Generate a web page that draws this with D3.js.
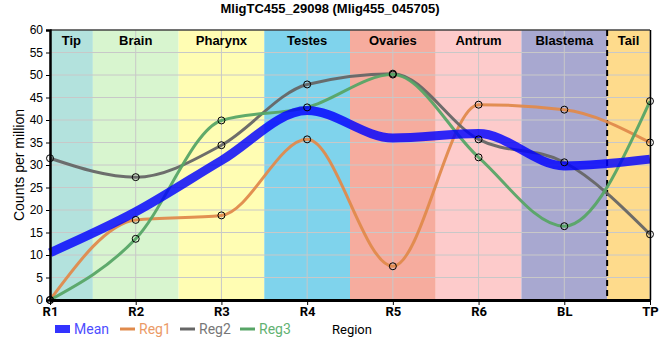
<!DOCTYPE html>
<html>
<head>
<meta charset="utf-8">
<script src="https://cdn.jsdelivr.net/npm/d3@7"></script>
<style>
  body { margin: 0; background: #fff; }
  text { font-family: "Liberation Sans", Arial, sans-serif; }
  .rob { font-family: Roboto, "DejaVu Sans", sans-serif; }
</style>
</head>
<body>
<div id="chart"></div>
<script>
// categories along x
const regions = ["R1", "R2", "R3", "R4", "R5", "R6", "BL", "TP"];

// tissue bands (start / end in category index units)
const bandNames = ["Tip", "Brain", "Pharynx", "Testes", "Ovaries", "Antrum", "Blastema", "Tail"];
const bandStart = [0, 0.5, 1.5, 2.5, 3.5, 4.5, 5.5, 6.5];
const bandEnd = [0.5, 1.5, 2.5, 3.5, 4.5, 5.5, 6.5, 7];
const bandColors = ["#b3e2dd", "#d8f5cf", "#fffdb3", "#7fd3ec", "#f6ac9e", "#fdcbcb", "#a8a8d0", "#fedb8c"];

// series values (counts per million)
const reg1 = [0, 17.8, 18.8, 35.7, 7.5, 43.4, 42.3, 35.0];
const reg2 = [31.5, 27.3, 34.4, 47.9, 50.3, 35.7, 30.6, 14.6];
const reg3 = [0, 13.6, 39.9, 42.8, 50.1, 31.7, 16.4, 44.2];
const meanVals = [10.5, 19.6, 31.0, 42.1, 36.0, 37.0, 29.8, 31.3];

const yTicks = [0, 5, 10, 15, 20, 25, 30, 35, 40, 45, 50, 55, 60];

const width = 660, height = 360;
const margin = {top: 30, right: 9, bottom: 60, left: 50};

const svg = d3.select("#chart").append("svg")
    .attr("width", width)
    .attr("height", height);

const x = d3.scaleLinear()
    .domain([0, regions.length - 1])
    .range([margin.left, width - margin.right - 1]);

const y = d3.scaleLinear()
    .domain([0, 60])
    .range([height - margin.bottom, margin.top]);

// background bands
svg.append("g")
    .selectAll("rect")
    .data(bandNames)
    .join("rect")
    .attr("x", (d, i) => x(bandStart[i]))
    .attr("width", (d, i) => x(bandEnd[i]) - x(bandStart[i]))
    .attr("y", y(60))
    .attr("height", y(0) - y(60))
    .attr("fill", (d, i) => bandColors[i]);

// grid
svg.append("g")
    .selectAll("line")
    .data(yTicks)
    .join("line")
    .attr("x1", x(0)).attr("x2", x(7))
    .attr("y1", d => y(d)).attr("y2", d => y(d))
    .attr("stroke", "#c8c8c8").attr("stroke-width", 1);

svg.append("g")
    .selectAll("line")
    .data(regions)
    .join("line")
    .attr("x1", (d, i) => x(i)).attr("x2", (d, i) => x(i))
    .attr("y1", y(0)).attr("y2", y(60))
    .attr("stroke", "#c8c8c8").attr("stroke-width", 1);

// band labels
svg.append("g")
    .selectAll("text")
    .data(bandNames)
    .join("text")
    .attr("x", (d, i) => (x(bandStart[i]) + x(bandEnd[i])) / 2)
    .attr("y", 45)
    .attr("text-anchor", "middle")
    .style("font-size", "13px")
    .style("font-weight", "bold")
    .text(d => d);

// dashed separator before tail
svg.append("line")
    .attr("x1", x(6.5)).attr("x2", x(6.5))
    .attr("y1", y(60)).attr("y2", y(0))
    .attr("stroke", "#000")
    .attr("stroke-width", 2)
    .attr("stroke-dasharray", "6,4");

// series lines
const line = d3.line()
    .x((d, i) => x(i))
    .y(d => y(d))
    .curve(d3.curveMonotoneX);

const series = [
    {name: "Reg1", values: reg1, color: "#e08a4c"},
    {name: "Reg2", values: reg2, color: "#666666"},
    {name: "Reg3", values: reg3, color: "#57a566"}
];

svg.append("g")
    .selectAll("path")
    .data(series)
    .join("path")
    .attr("d", d => line(d.values))
    .attr("fill", "none")
    .attr("stroke", d => d.color)
    .attr("stroke-width", 3)
    .attr("stroke-opacity", 0.95);

// mean line, on top and see-through
svg.append("path")
    .attr("d", line(meanVals))
    .attr("fill", "none")
    .attr("stroke", "#0000ff")
    .attr("stroke-width", 9)
    .attr("stroke-opacity", 0.82);

// data points
series.forEach(s => {
    svg.append("g")
        .selectAll("circle")
        .data(s.values)
        .join("circle")
        .attr("cx", (d, i) => x(i))
        .attr("cy", d => y(d))
        .attr("r", 3.5)
        .attr("fill", "none")
        .attr("stroke", "#000")
        .attr("stroke-width", 1);
});

// frame top / right
svg.append("line")
    .attr("x1", x(0)).attr("x2", x(7))
    .attr("y1", y(60)).attr("y2", y(60))
    .attr("stroke", "#000").attr("stroke-width", 1);
svg.append("line")
    .attr("x1", x(7) + 0.5).attr("x2", x(7) + 0.5)
    .attr("y1", y(60)).attr("y2", y(0))
    .attr("stroke", "#000").attr("stroke-width", 1.5);

// axes
const yAxis = svg.append("g")
    .attr("transform", `translate(${x(0)},0)`)
    .call(d3.axisLeft(y).tickValues(yTicks).tickSize(4).tickPadding(3));
yAxis.select(".domain").attr("stroke-width", 2.5);
yAxis.selectAll("text")
    .style("font-family", "'Liberation Sans', Arial, sans-serif")
    .style("font-size", "12px").attr("fill", "#000");

const xAxis = svg.append("g")
    .attr("transform", `translate(0,${y(0)})`)
    .call(d3.axisBottom(x)
        .tickValues(d3.range(regions.length))
        .tickFormat(i => regions[i])
        .tickSize(5).tickPadding(2).tickSizeOuter(0));
xAxis.select(".domain").attr("stroke-width", 3);
xAxis.selectAll("text")
    .style("font-family", "Roboto, sans-serif")
    .style("font-size", "13px")
    .style("font-weight", "bold")
    .attr("fill", "#000");

// title
svg.append("text")
    .attr("x", width / 2)
    .attr("y", 13)
    .attr("text-anchor", "middle")
    .style("font-size", "13px")
    .style("font-weight", "bold")
    .text("MligTC455_29098 (Mlig455_045705)");

// y label
svg.append("text")
    .attr("transform", `translate(24,${(y(0) + y(60)) / 2}) rotate(-90)`)
    .attr("text-anchor", "middle")
    .style("font-size", "14px")
    .text("Counts per million");

// legend
const legend = [
    {name: "Mean", color: "#0000ff", text: "#4d4dff", w: 8, x: 55},
    {name: "Reg1", color: "#e08a4c", text: "#eb9a66", w: 3, x: 120},
    {name: "Reg2", color: "#666666", text: "#777777", w: 3, x: 180},
    {name: "Reg3", color: "#57a566", text: "#62b272", w: 3, x: 240}
];
const lg = svg.append("g");
lg.selectAll("line")
    .data(legend)
    .join("line")
    .attr("x1", d => d.x).attr("x2", d => d.x + 15)
    .attr("y1", 329).attr("y2", 329)
    .attr("stroke", d => d.color)
    .attr("stroke-opacity", d => d.name === "Mean" ? 0.8 : 1)
    .attr("stroke-width", d => d.w);
lg.selectAll("text")
    .data(legend)
    .join("text")
    .attr("class", "rob")
    .attr("x", d => d.x + 19)
    .attr("y", 334)
    .style("font-size", "14px")
    .attr("fill", d => d.text)
    .text(d => d.name);

svg.append("text")
    .attr("class", "rob")
    .attr("x", 332)
    .attr("y", 334)
    .style("font-size", "13px")
    .text("Region");
</script>
</body>
</html>
